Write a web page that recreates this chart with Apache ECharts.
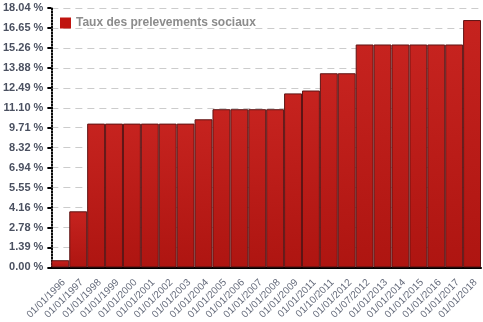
<!DOCTYPE html>
<html><head><meta charset="utf-8">
<script src="https://cdn.jsdelivr.net/npm/echarts@6/dist/echarts.min.js"></script>
<style>html,body{margin:0;padding:0;background:#fff}#c{width:483px;height:322px}</style>
</head><body><div id="c"></div>
<script>
const categories = ["01/01/1996","01/01/1997","01/01/1998","01/01/1999","01/01/2000","01/01/2001","01/01/2002","01/01/2003","01/01/2004","01/01/2005","01/01/2006","01/01/2007","01/01/2008","01/01/2009","01/01/2011","01/10/2011","01/01/2012","01/07/2012","01/01/2013","01/01/2014","01/01/2015","01/01/2016","01/01/2017","01/01/2018"];
const rates = [0.5,3.9,10,10,10,10,10,10,10.3,11,11,11,11,12.1,12.3,13.5,13.5,15.5,15.5,15.5,15.5,15.5,15.5,17.2];
const tickLabels = ["0.00 %","1.39 %","2.78 %","4.16 %","5.55 %","6.94 %","8.32 %","9.71 %","11.10 %","12.49 %","13.88 %","15.26 %","16.65 %","18.04 %"];
const seriesName = "Taux des prelevements sociaux";
const yStep = 1.3875;
const yMax = yStep * (tickLabels.length - 1);

const chart = echarts.init(document.getElementById('c'), null, {renderer:'canvas'});
chart.setOption({
  animation:false,
  grid:{left:49,right:2,top:8,bottom:54,containLabel:false},
  legend:{left:55,top:12,icon:'rect',itemWidth:11,itemHeight:11,
    itemStyle:{borderWidth:0,color:'#c0140f'},
    textStyle:{fontFamily:'Liberation Sans, Arial',fontWeight:'bold',fontSize:12,color:'#8c8c8c'},
    data:[seriesName]},
  xAxis:{type:'category',data:categories,boundaryGap:true,
    axisLine:{lineStyle:{color:'#000',width:2}},
    axisTick:{alignWithLabel:true,length:4,lineStyle:{color:'#000',width:2}},
    axisLabel:{rotate:45,interval:0,fontFamily:'Liberation Sans, Arial',fontSize:10,color:'#656b7b',margin:10,verticalAlign:'top'}},
  yAxis:{type:'value',min:0,max:yMax,interval:yStep,
    axisLine:{show:true,lineStyle:{color:'#000',width:2,type:[1,2]}},
    axisTick:{show:true,length:4,lineStyle:{color:'#000',width:2}},
    splitLine:{lineStyle:{color:'#cccccc',type:[7,5],width:1}},
    axisLabel:{formatter:(v)=>tickLabels[Math.round(v/yStep)],fontFamily:'Liberation Sans, Arial',fontWeight:'bold',fontSize:11,color:'#4a5060',margin:8}},
  series:[{name:seriesName,type:'bar',data:rates,barCategoryGap:'0%',
    itemStyle:{color:new echarts.graphic.LinearGradient(0,0,0,1,[{offset:0,color:'#c6231f'},{offset:1,color:'#ae1511'}]),
      borderColor:'#5e1414',borderWidth:1}}]
});
</script></body></html>
